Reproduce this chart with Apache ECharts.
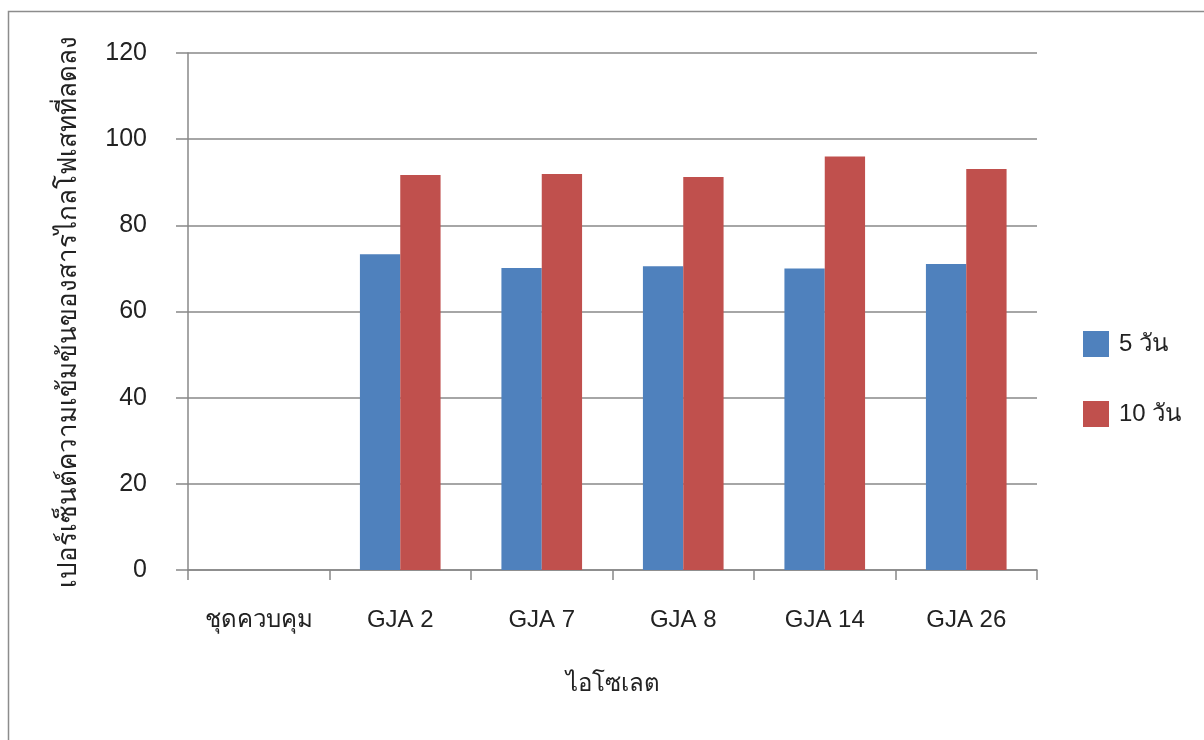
<!DOCTYPE html>
<html>
<head>
<meta charset="utf-8">
<script src="https://cdn.jsdelivr.net/npm/echarts@6/dist/echarts.min.js"></script>
<style>
    html, body { margin: 0; padding: 0; background: #fff; }
    #chart { width: 1204px; height: 740px; }
</style>
</head>
<body>
<div id="chart"></div>
<script>
// ข้อมูล
const categories = ['ชุดควบคุม', 'GJA 2', 'GJA 7', 'GJA 8', 'GJA 14', 'GJA 26'];
const fiveDays = [0, 73.3, 70.1, 70.5, 70.0, 71.0];
const tenDays = [0, 91.7, 91.9, 91.2, 96.0, 93.1];
const seriesNames = ['5 วัน', '10 วัน'];

const font = '"Liberation Sans", Arial, "Noto Sans", sans-serif';
const myChart = echarts.init(document.getElementById('chart'));

const option = {
    animation: false,
    textStyle: { fontFamily: font, color: '#000' },
    graphic: [
        {
            type: 'rect',
            shape: { x: 8.5, y: 11.5, width: 1220, height: 760 },
            style: { fill: 'none', stroke: '#8c8c8c', lineWidth: 1.5 }
        }
    ],
    legend: {
        orient: 'vertical',
        left: 1083,
        top: 331,
        padding: 0,
        itemWidth: 26,
        itemHeight: 26,
        itemGap: 44,
        icon: 'rect',
        textStyle: { fontSize: 24, color: '#222', fontFamily: font, padding: [0, 0, 0, 5] },
        data: seriesNames
    },
    grid: {
        left: 188,
        right: 167,
        top: 53,
        bottom: 170
    },
    xAxis: {
        type: 'category',
        data: categories,
        name: 'ไอโซเลต',
        nameLocation: 'middle',
        nameGap: 102,
        nameTextStyle: { fontSize: 24, color: '#222' },
        axisLine: { lineStyle: { color: '#888', width: 1.5 } },
        axisTick: { show: true, interval: 0, length: 10, lineStyle: { color: '#888', width: 1.5 } },
        axisLabel: { interval: 0, fontSize: 24, color: '#222', margin: 38 }
    },
    yAxis: {
        type: 'value',
        min: 0,
        max: 120,
        interval: 20,
        name: 'เปอร์เซ็นต์ความเข้มข้นของสารไกลโฟเสทที่ลดลง',
        nameLocation: 'middle',
        nameGap: 106,
        nameTextStyle: { fontSize: 26, color: '#222' },
        axisLine: { show: true, lineStyle: { color: '#888', width: 1.5 } },
        axisTick: { show: true, length: 12, lineStyle: { color: '#888', width: 1.5 } },
        axisLabel: { fontSize: 25, color: '#222', margin: 41 },
        splitLine: { lineStyle: { color: '#888', width: 1.5 } }
    },
    series: [
        {
            name: seriesNames[0],
            type: 'bar',
            data: fiveDays,
            barGap: '0%',
            barCategoryGap: '43%',
            itemStyle: { color: '#4F81BD' }
        },
        {
            name: seriesNames[1],
            type: 'bar',
            data: tenDays,
            itemStyle: { color: '#C0504D' }
        }
    ]
};

myChart.setOption(option);
</script>
</body>
</html>
